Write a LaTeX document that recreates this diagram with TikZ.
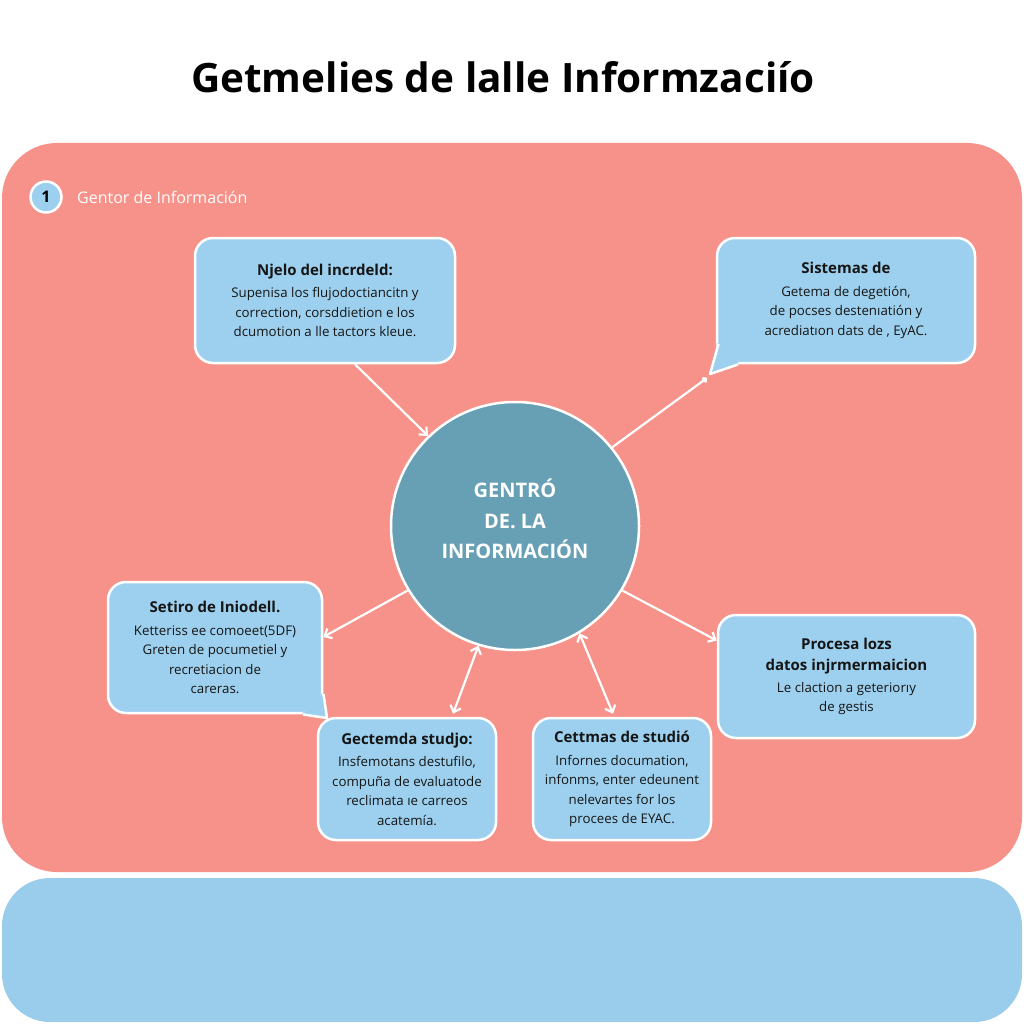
\documentclass[tikz,border=0pt]{standalone}
\usepackage{fontspec}
\setmainfont{Open Sans}
\usetikzlibrary{arrows.meta}
\definecolor{pinkbg}{HTML}{F7928A}
\definecolor{boxblue}{HTML}{9DD0EE}
\definecolor{circblue}{HTML}{679FB4}
\definecolor{lowblue}{HTML}{99CDEB}
\definecolor{txt}{HTML}{151515}
\tikzset{
  infobox/.style={draw=white, line width=2.5pt, fill=boxblue, rounded corners=18pt,
    align=center, text=txt, inner sep=0pt,
    font=\fontsize{13.3}{19.5}\selectfont},
  arr/.style={draw=white, line width=2.2pt, -{Straight Barb[length=6pt,width=11pt]}},
  biarr/.style={draw=white, line width=2.2pt, {Straight Barb[length=6pt,width=11pt]}-{Straight Barb[length=6pt,width=11pt]}},
  dotarr/.style={draw=white, line width=2.2pt, -{Circle[length=6pt]}},
  tailfill/.style={fill=boxblue},
  tailline/.style={draw=white, line width=2.5pt, line join=round}
}
\newcommand{\btitle}[1]{{\fontsize{15}{19.5}\selectfont\bfseries #1}}
\begin{document}
\begin{tikzpicture}[x=1pt,y=-1pt]
\useasboundingbox (0,0) rectangle (1024,1024);
\fill[white] (0,0) rectangle (1024,1024);

% title
\node[font=\fontsize{40.5}{46}\selectfont\bfseries, text=black] (title) at (503,77) {Getmelies de lalle Informzaciío};

% panels
\node[fill=pinkbg, rounded corners=55pt, minimum width=1020pt, minimum height=729pt, inner sep=0pt] (panel) at (512,507.5) {};
\node[fill=lowblue, rounded corners=48pt, minimum width=1020pt, minimum height=144pt, inner sep=0pt] (lower) at (512,950) {};

% badge
\node[circle, fill=boxblue, draw=white, line width=2.5pt, minimum size=31pt, inner sep=0pt,
      font=\fontsize{16}{18}\selectfont\bfseries, text=black] (badge) at (46,197) {1};
\node[anchor=west, text=white, font=\fontsize{16}{18}\selectfont, inner sep=0pt] (badgelbl) at (77,197) {Gentor de Información};

% center circle
\node[circle, fill=circblue, draw=white, line width=2.5pt, minimum size=248pt, inner sep=0pt,
      align=center, text=white, font=\fontsize{20}{30.5}\selectfont\bfseries] (c) at (515,526)
      {GENTRÓ\\DE. LA\\INFORMACIÓN\\[-16pt]\mbox{}};

% boxes
\node[infobox, minimum width=260pt, minimum height=125pt] (tl) at (325,300.5)
  {\btitle{Njelo del incrdeld:}\\[3pt]Supenisa los flujodoctiancitn y\\correction, corsddietion e los\\dcumotion a lle tactors kleue.};
\node[infobox, minimum width=258pt, minimum height=125pt] (tr) at (846,300.5)
  {\btitle{Sistemas de}\\[3pt]Getema de degetión,\\de pocses destenıatión y\\acrediatıon dats de , EyAC.};
\node[infobox, minimum width=214pt, minimum height=131pt] (lf) at (215,647.5)
  {\btitle{Setiro de Iniodell.}\\[3pt]Ketteriss ee comoeet(5DF)\\Greten de pocumetiel y\\recretiacion de\\careras.};
\fill[tailfill] (322,693) -- (327,718) -- (302,713) -- (315,706) -- cycle;
\draw[tailline] (323.5,694) -- (327,718) -- (303,714.5);
\node[infobox, minimum width=257pt, minimum height=123pt] (rt) at (846.5,676.5)
  {\btitle{Procesa lozs}\\[2pt]\btitle{datos injrmermaicion}\\[2pt]Le claction a geteriorıy\\de gestis};
\node[infobox, minimum width=178pt, minimum height=122pt] (bl) at (407,779)
  {\btitle{Gectemda studjo:}\\[3pt]Insfemotans destufilo,\\compuña de evaluatode\\reclimata ıe carreos\\acatemía.};
\node[infobox, minimum width=178pt, minimum height=122pt] (bm) at (622,779)
  {\btitle{Cettmas de studió}\\[3pt]Infornes documation,\\infonms, enter edeunent\\nelevartes for los\\procees de EYAC.};

% speech tail of the top-right box
\fill[tailfill] (739,363) -- (710,374) -- (717,343) -- (730,356) -- cycle;
\draw[tailline] (738,364.5) -- (710,374) -- (718.5,344);
\coordinate (trtip) at (707,378);

% connectors
\draw[arr] ([xshift=30pt]tl.south) -- (c.134);
\draw[dotarr] (c.39) -- (trtip);
\draw[arr] (c.211.5) -- ([yshift=10.5pt]lf.east);
\draw[arr] (c.-31) -- ([yshift=36pt]rt.west);
\draw[biarr] (c.253) -- ([xshift=46pt,yshift=3pt]bl.north);
\draw[biarr] (c.301) -- ([xshift=-9pt,yshift=3pt]bm.north);
\end{tikzpicture}
\end{document}
